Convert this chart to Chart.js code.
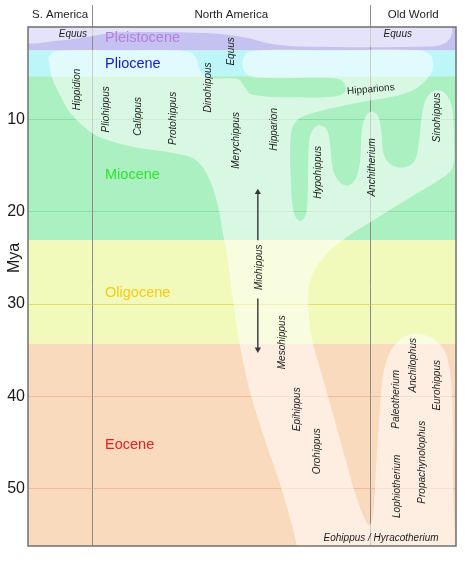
<!DOCTYPE html>
<html><head><meta charset="utf-8">
<script src="https://cdn.jsdelivr.net/npm/chart.js@4.4.0/dist/chart.umd.min.js"></script>
<style>html,body{margin:0;padding:0;background:#fff;}#wrap{width:474px;height:563px;}</style>
</head><body><div id="wrap"><canvas id="c"></canvas></div>
<script>
// ---- data (x: 0..100 across the three regions, y: million years ago) ----
const epochNames = ['Pleistocene','Pliocene','Miocene','Oligocene','Eocene'];
const epochStart = [0, 2.55, 5.33, 23.1, 34.3];
const epochEnd   = [2.55, 5.33, 23.1, 34.3, 56.2];
const epochLabelY = [1.22, 4.04, 16.07, 28.85, 45.3];
const epochLabelX = 18;

const regionNames = ['S. America','North America','Old World'];
const regionBounds = [0, 15, 80, 100];

const myaTicks = [10, 20, 30, 40, 50];
const myaTitleAt = 25;

const genusNames = ['Equus','Equus','Equus','Hippidion','Pliohippus','Calippus','Protohippus','Dinohippus',
  'Merychippus','Hipparion','Hypohippus','Anchitherium','Sinohippus','Hipparions','Miohippus','Mesohippus',
  'Epihippus','Orohippus','Paleotherium','Anchilophus','Eurohippus','Propachynolophus','Lophiotherium',
  'Eohippus / Hyracotherium'];
const genusX = [10.5, 86.4, 47.4, 11.4, 18.2, 25.7, 33.9, 42.1, 48.6, 57.5, 67.8, 80.4, 95.6, 80.1, 54.0, 59.3,
  62.9, 67.5, 86.0, 90.0, 95.6, 92.1, 86.2, 82.5];
const genusY = [0.8, 0.8, 2.64, 6.76, 8.92, 9.68, 9.89, 6.54, 12.28, 11.09, 15.74, 15.2, 9.79, 6.76, 26.02, 34.14,
  41.4, 45.94, 40.31, 36.63, 38.8, 47.13, 49.73, 55.36];

// translucent lineage outlines (x, Mya)
const equusBandX = [-1.9, 96.3, 98.6, 99.1, 97.7, 93.9, 63.6, 56.5, 50.7, 42.5, 21.5, 14.5, 7.5, -1.9, -1.9];
const equusBandY = [-0.93, -0.93, -0.28, 0.69, 1.67, 2.10, 2.10, 1.78, 1.13, 0.69, 0.58, 1.02, 1.45, 1.56, -0.93];

const treeX = [4.7, 6.3, 21.5, 37.4, 39.3, 40.2, 42.5, 49.1, 50.5, 52.3, 63.6, 72.0, 74.1, 73.8, 71.7, 53.0, 50.7, 50.2, 51.9,
  70.6, 91.6, 94.2, 94.6, 93.2, 90.0, 85.7, 79.9, 72.9, 66.4, 62.6, 61.4, 61.4, 62.1, 63.6, 65.0, 65.4, 65.7, 66.6,
  68.2, 69.9, 70.6, 71.3, 72.9, 74.8, 76.6, 77.6, 78.0, 79.0, 80.4, 81.8, 82.5, 83.2, 85.0, 88.1, 90.4, 91.4, 92.3,
  93.7, 95.6, 97.7, 99.1, 99.5, 99.1, 95.1, 90.9, 82.2, 74.1, 69.4, 66.4, 65.4, 66.4, 68.7, 71.0, 73.6, 76.2, 78.3,
  79.7, 80.6, 81.3, 82.2, 83.2, 85.3, 89.3, 93.5, 97.0, 98.6, 99.3, 99.3, 99.8, 100.5, 62.9, 62.85, 59.35, 55.4,
  51.9, 49.5, 47.9, 46.5, 45.6, 44.6, 42.5, 39.3, 34.3, 25.0, 16.8, 13.3, 9.8, 7.5, 5.6, 4.7];
const treeY = [3.3, 2.64, 2.53, 2.64, 3.4, 4.7, 5.46, 5.67, 6.43, 7.3, 7.62, 7.51, 6.97, 6.0, 5.56, 5.46, 4.91, 3.62, 2.64,
  2.53, 2.53, 3.18, 4.48, 5.67, 6.86, 7.51, 7.95, 8.6, 9.35, 10.22, 11.73, 16.61, 20.07, 21.04, 20.18, 16.61, 12.28, 11.09,
  10.65, 11.19, 12.82, 15.52, 16.83, 17.15, 16.39, 14.44, 11.19, 9.57, 9.14, 9.69, 11.19, 13.9, 14.98, 15.2, 14.44, 12.28, 8.81,
  7.3, 6.86, 7.3, 8.81, 12.28, 15.31, 16.83, 18.01, 20.5, 22.88, 24.72, 26.89, 29.6, 33.93, 37.71, 41.5, 45.83, 50.17, 52.87,
  53.95, 52.87, 48.0, 41.5, 37.17, 34.68, 33.28, 33.49, 34.79, 37.39, 42.59, 49.08, 55.57, 57.7, 57.7, 56.23, 50.17, 44.75,
  39.55, 34.47, 29.6, 24.72, 22.56, 19.85, 16.61, 14.44, 13.68, 13.03, 11.95, 10.87, 9.25, 7.40, 5.46, 3.3];

const arrowX = 53.7;
const arrowUpY = [23.1, 17.9];
const arrowDownY = [29.4, 34.9];

// ---- styles ----
const epochFill = ['#c5c2f2', '#bcf6f9', '#aaf0c0', '#f2fabb', '#fadabd'];
const epochText = ['#b47ee0', '#1020cc', '#2ee42e', '#f0cc14', '#e81c1c'];
const epochGrid = ['rgba(140,130,220,0.5)', 'rgba(90,200,210,0.5)', 'rgba(80,190,115,0.35)', 'rgba(215,200,50,0.6)', 'rgba(232,160,125,0.55)'];
const genusRotation = [0, 0, -90, -90, -90, -90, -90, -90, -90, -90, -90, -90, -90, -5, -90, -90, -90, -90, -90, -90, -90, -90, -90, 0];
const genusItalic = genusNames.map(n => n !== 'Hipparions');
const overlayColor = 'rgba(255,255,255,0.55)';
const FONT = '"Liberation Sans", Arial, sans-serif';

Chart.defaults.font.family = FONT;
const pts = (xs, ys) => xs.map((x, i) => ({x, y: ys[i]}));

function gridColorFor(v) {
  const i = epochStart.findIndex((s, k) => v >= s && v < epochEnd[k]);
  return i < 0 ? 'rgba(0,0,0,0)' : epochGrid[i];
}

const bandPlugin = {
  id: 'bands',
  beforeDraw(chart) {
    const {ctx, chartArea: a, scales: {y}} = chart;
    ctx.save();
    ctx.fillStyle = '#fff';
    ctx.fillRect(0, 0, chart.width, chart.height);
    epochStart.forEach((s, i) => {
      const y0 = y.getPixelForValue(s), y1 = y.getPixelForValue(epochEnd[i]);
      ctx.fillStyle = epochFill[i];
      ctx.fillRect(a.left, Math.min(y0, y1), a.right - a.left, Math.abs(y1 - y0));
    });
    ctx.restore();
  }
};

const textPlugin = {
  id: 'texts',
  afterDatasetsDraw(chart) {
    const {ctx, chartArea: a, scales: {x, y}} = chart;
    ctx.save();
    ctx.strokeStyle = '#707070';
    ctx.lineWidth = 1.5;
    ctx.strokeRect(a.left, a.top, a.right - a.left, a.bottom - a.top);

    ctx.textBaseline = 'middle';
    ctx.textAlign = 'left';
    ctx.font = '14.5px ' + FONT;
    epochNames.forEach((n, i) => {
      ctx.fillStyle = epochText[i];
      ctx.fillText(n, x.getPixelForValue(epochLabelX), y.getPixelForValue(epochLabelY[i]));
    });

    ctx.textAlign = 'center';
    genusNames.forEach((n, i) => {
      ctx.save();
      ctx.translate(x.getPixelForValue(genusX[i]), y.getPixelForValue(genusY[i]));
      ctx.rotate(genusRotation[i] * Math.PI / 180);
      ctx.font = (genusItalic[i] ? 'italic ' : '') + '10px ' + FONT;
      ctx.fillStyle = '#1c1c1c';
      ctx.fillText(n, 0, 0);
      ctx.restore();
    });

    ctx.font = '11.5px ' + FONT;
    ctx.fillStyle = '#222';
    regionNames.forEach((n, i) => {
      const cx = x.getPixelForValue((regionBounds[i] + regionBounds[i + 1]) / 2);
      ctx.fillText(n, cx, a.top - 12);
    });

    ctx.save();
    ctx.translate(a.left - 13, y.getPixelForValue(myaTitleAt));
    ctx.rotate(-Math.PI / 2);
    ctx.font = '16px ' + FONT;
    ctx.fillStyle = '#1a1a1a';
    ctx.fillText('Mya', 0, 0);
    ctx.restore();
    ctx.restore();
  }
};

const shapeDs = (data) => ({data, order: 2, fill: 'shape', backgroundColor: overlayColor, borderColor: 'rgba(0,0,0,0)',
  borderWidth: 0, pointRadius: 0, pointHitRadius: 0, tension: 0.35});
const arrowDs = (ys, rot) => ({data: ys.map(v => ({x: arrowX, y: v})), order: 0, fill: false, borderColor: '#363636',
  borderWidth: 1.4, tension: 0, pointRadius: [0, 3.6], pointStyle: 'triangle', pointRotation: rot,
  pointBackgroundColor: '#363636', pointBorderColor: '#363636', pointBorderWidth: 0});

new Chart(document.getElementById('c'), {
  type: 'line',
  data: {datasets: [
    shapeDs(pts(equusBandX, equusBandY)),
    shapeDs(pts(treeX, treeY)),
    arrowDs(arrowUpY, 0),
    arrowDs(arrowDownY, 180)
  ]},
  options: {
    responsive: true, maintainAspectRatio: false, animation: false,
    layout: {padding: {left: 0, top: 0, right: 18, bottom: 17}},
    plugins: {legend: {display: false}, tooltip: {enabled: false}},
    elements: {line: {capBezierPoints: false}},
    scales: {
      x: {type: 'linear', position: 'top', min: 0, max: 100,
        afterBuildTicks: s => { s.ticks = regionBounds.slice(1, -1).map(v => ({value: v})); },
        afterFit: s => { s.height = 27; },
        ticks: {display: false},
        grid: {color: '#8c8c8c', lineWidth: 1, tickLength: 22, tickColor: '#8c8c8c', drawTicks: true},
        border: {display: false}},
      y: {type: 'linear', reverse: true, min: 0, max: 56.2,
        afterBuildTicks: s => { s.ticks = myaTicks.map(v => ({value: v})); },
        afterFit: s => { s.width = 28; },
        ticks: {padding: 3, color: '#1a1a1a', font: {size: 16}},
        grid: {drawTicks: false, lineWidth: 1, color: c => c.tick ? gridColorFor(c.tick.value) : 'rgba(0,0,0,0)'},
        border: {display: false}}
    }
  },
  plugins: [bandPlugin, textPlugin]
});
</script></body></html>
